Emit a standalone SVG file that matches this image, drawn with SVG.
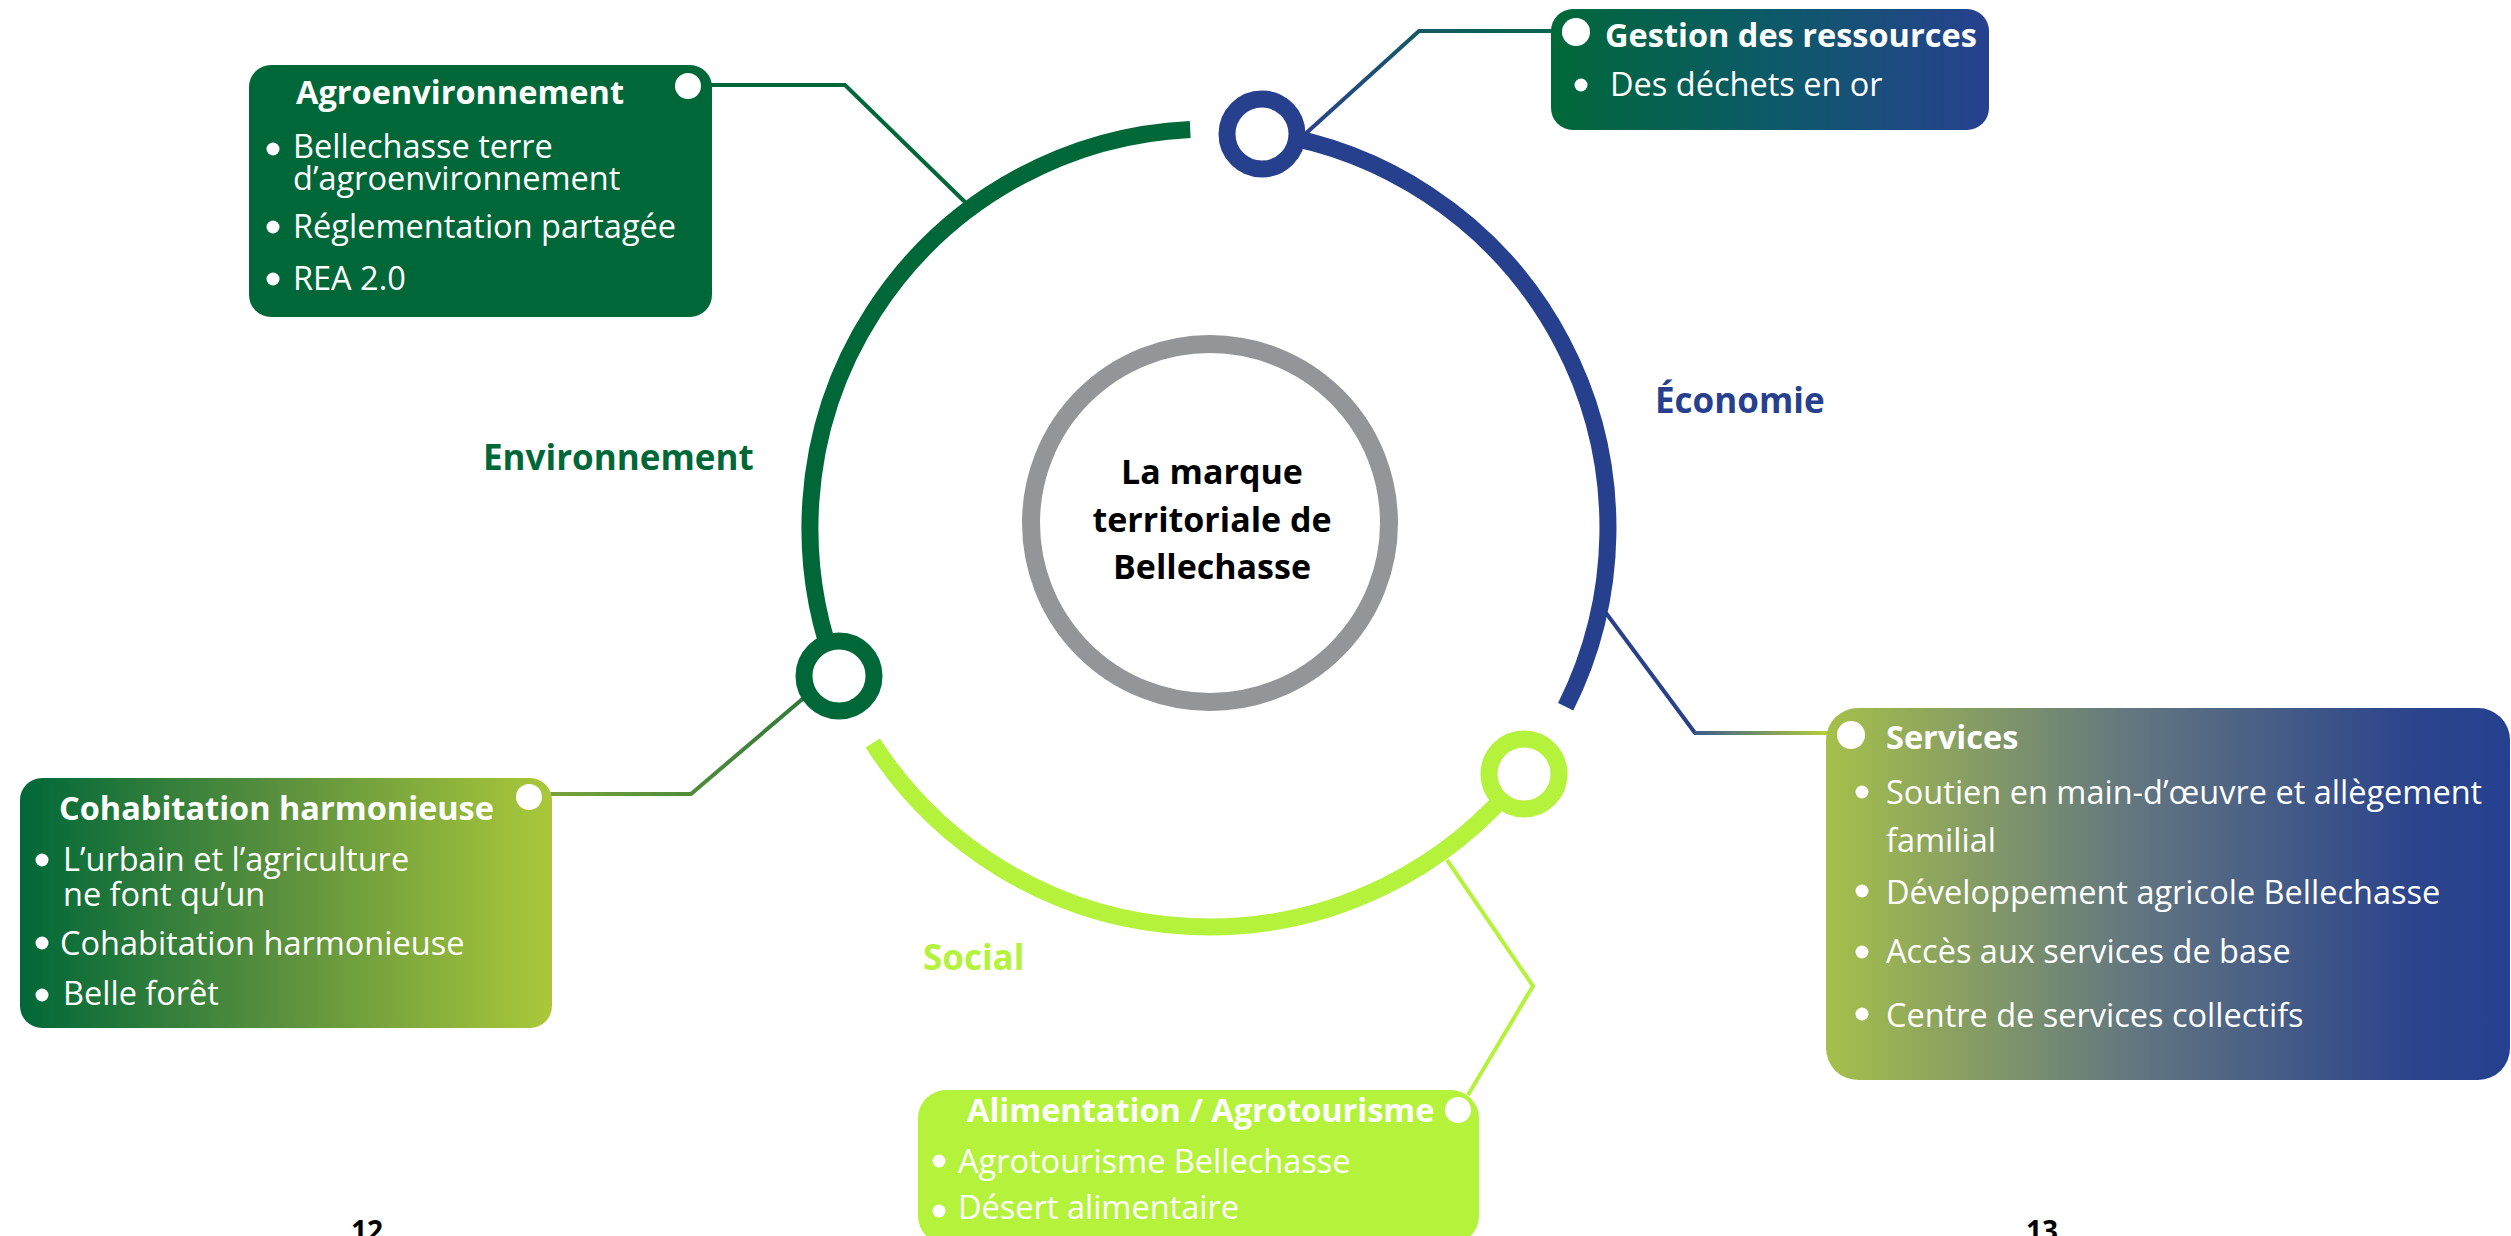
<svg xmlns="http://www.w3.org/2000/svg" width="2511" height="1236" viewBox="0 0 2511 1236">
<style>
.t{font-family:"Open Sans","Liberation Sans",sans-serif;font-size:32.5px;fill:#fff}
.b{font-weight:700}
.lab{font-family:"Open Sans","Liberation Sans",sans-serif;font-size:35px;font-weight:700}
.ctr{font-family:"Open Sans","Liberation Sans",sans-serif;font-size:34px;font-weight:700;fill:#000;text-anchor:middle}
.pg{font-family:"Open Sans","Liberation Sans",sans-serif;font-size:28px;font-weight:700;fill:#000}
.dot{fill:#fff}
.arc{fill:none;stroke-width:17}
.con{fill:none;stroke-width:4;stroke-linejoin:miter}
.ring{fill:#fff;stroke-width:17}
</style>
<defs>
<linearGradient id="gGest" x1="0" y1="0" x2="1" y2="0"><stop offset="0" stop-color="#006838"/><stop offset="0.5" stop-color="#0c5a68"/><stop offset="1" stop-color="#27418f"/></linearGradient>
<linearGradient id="gCoh" x1="0" y1="0" x2="1" y2="0"><stop offset="0" stop-color="#006838"/><stop offset="0.5" stop-color="#5c913e"/><stop offset="1" stop-color="#aac83a"/></linearGradient>
<linearGradient id="gServ" x1="0" y1="0" x2="1" y2="0"><stop offset="0" stop-color="#a6c04a"/><stop offset="0.45" stop-color="#627680"/><stop offset="0.85" stop-color="#2c458c"/><stop offset="1" stop-color="#25408f"/></linearGradient>
<linearGradient id="cGest" gradientUnits="userSpaceOnUse" x1="1303" y1="136" x2="1500" y2="31"><stop offset="0" stop-color="#2a448d"/><stop offset="1" stop-color="#0a6252"/></linearGradient>
<linearGradient id="cServ" gradientUnits="userSpaceOnUse" x1="1695" y1="0" x2="1830" y2="0"><stop offset="0" stop-color="#3d5a8a"/><stop offset="1" stop-color="#b8d23a"/></linearGradient>
<linearGradient id="cCoh" gradientUnits="userSpaceOnUse" x1="804" y1="0" x2="545" y2="0"><stop offset="0" stop-color="#2f7a3a"/><stop offset="1" stop-color="#7aa43c"/></linearGradient>
</defs>
<rect width="2511" height="1236" fill="#fff"/>

<g id="connectors">
<path class="con" stroke="#006838" d="M700 85 H845 L966 203"/>
<path class="con" stroke="url(#cGest)" d="M1303 136 L1419 31 H1560"/>
<path class="con" stroke="#2a4189" d="M1606 613 L1695 733"/>
<path class="con" stroke="url(#cServ)" d="M1694 733 H1835"/>
<path class="con" stroke="url(#cCoh)" d="M806 696 L691 794 H540"/>
<path class="con" stroke="#b5f23c" d="M1447 860 L1533 986 L1468 1095"/>
</g>

<g id="cycle">
<path class="arc" stroke="#006838" d="M1190.2 129.4 A399 399 0 0 0 838.5 676.2"/>
<path class="arc" stroke="#26408e" d="M1262.4 132.6 A399 399 0 0 1 1565.7 706.7"/>
<path class="arc" stroke="#b5f23c" d="M872.8 743 A399 399 0 0 0 1523.4 773.6"/>
<circle class="ring" stroke="#006838" cx="839" cy="676" r="35"/>
<circle class="ring" stroke="#26408e" cx="1262" cy="134" r="35"/>
<circle class="ring" stroke="#b5f23c" cx="1524" cy="774" r="35"/>
</g>

<g id="center">
<circle cx="1210" cy="523" r="179" fill="#fff" stroke="#939598" stroke-width="18"/>
<text class="ctr" x="1212" y="484">La marque</text>
<text class="ctr" x="1212" y="532">territoriale de</text>
<text class="ctr" x="1212" y="579">Bellechasse</text>
</g>

<g id="labels">
<text class="lab" x="483" y="470" fill="#006838">Environnement</text>
<text class="lab" x="1655" y="413" fill="#26408e">Économie</text>
<text class="lab" x="923" y="970" fill="#b5f23c">Social</text>
</g>

<g id="agroenvironnement">
<rect x="249" y="65" width="463" height="252" rx="22" fill="#006838"/>
<circle class="dot" cx="688" cy="86" r="13"/>
<text class="t b" x="296" y="104">Agroenvironnement</text>
<circle class="dot" cx="273" cy="149" r="6.5"/>
<text class="t" x="293" y="158">Bellechasse terre</text>
<text class="t" x="293" y="190">d’agroenvironnement</text>
<circle class="dot" cx="273" cy="227" r="6.5"/>
<text class="t" x="293" y="238">Réglementation partagée</text>
<circle class="dot" cx="273" cy="279" r="6.5"/>
<text class="t" x="293" y="290">REA 2.0</text>
</g>

<g id="gestion">
<rect x="1551" y="9" width="438" height="121" rx="22" fill="url(#gGest)"/>
<circle class="dot" cx="1576" cy="32" r="14"/>
<text class="t b" x="1605" y="47">Gestion des ressources</text>
<circle class="dot" cx="1581" cy="85" r="6.5"/>
<text class="t" x="1610" y="96">Des déchets en or</text>
</g>

<g id="cohabitation">
<rect x="20" y="778" width="532" height="250" rx="22" fill="url(#gCoh)"/>
<circle class="dot" cx="529" cy="797" r="13"/>
<text class="t b" x="59" y="820">Cohabitation harmonieuse</text>
<circle class="dot" cx="42" cy="860" r="6.5"/>
<text class="t" x="63" y="871">L’urbain et l’agriculture</text>
<text class="t" x="63" y="906">ne font qu’un</text>
<circle class="dot" cx="42" cy="943" r="6.5"/>
<text class="t" x="60" y="955">Cohabitation harmonieuse</text>
<circle class="dot" cx="42" cy="995" r="6.5"/>
<text class="t" x="63" y="1005">Belle forêt</text>
</g>

<g id="services">
<rect x="1826" y="708" width="684" height="372" rx="32" fill="url(#gServ)"/>
<circle class="dot" cx="1851" cy="735" r="14"/>
<text class="t b" x="1886" y="749">Services</text>
<circle class="dot" cx="1862" cy="792" r="6.5"/>
<text class="t" x="1886" y="804">Soutien en main-d’œuvre et allègement</text>
<text class="t" x="1886" y="852">familial</text>
<circle class="dot" cx="1862" cy="891" r="6.5"/>
<text class="t" x="1886" y="904">Développement agricole Bellechasse</text>
<circle class="dot" cx="1862" cy="952" r="6.5"/>
<text class="t" x="1886" y="963">Accès aux services de base</text>
<circle class="dot" cx="1862" cy="1014" r="6.5"/>
<text class="t" x="1886" y="1027">Centre de services collectifs</text>
</g>

<g id="alimentation">
<rect x="918" y="1090" width="561" height="154" rx="28" fill="#b5f23c"/>
<circle class="dot" cx="1458" cy="1110" r="13"/>
<text class="t b" x="967" y="1122">Alimentation / Agrotourisme</text>
<circle class="dot" cx="939" cy="1161" r="6.5"/>
<text class="t" x="958" y="1173">Agrotourisme Bellechasse</text>
<circle class="dot" cx="939" cy="1211" r="6.5"/>
<text class="t" x="958" y="1219">Désert alimentaire</text>
</g>

<g id="pages">
<text class="pg" x="351" y="1241">12</text>
<text class="pg" x="2026" y="1241">13</text>
</g>
</svg>
